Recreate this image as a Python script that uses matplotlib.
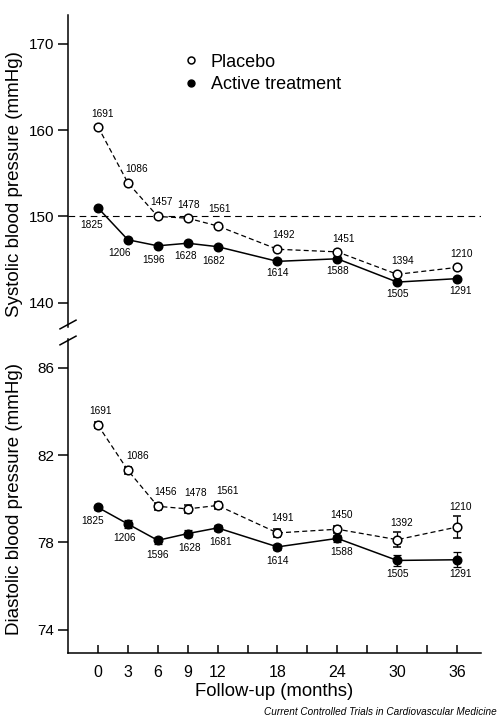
import matplotlib
matplotlib.use("Agg")
import matplotlib.pyplot as plt

# --- données ---
months = [0, 3, 6, 9, 12, 18, 24, 30, 36]

sbp_placebo = [160.4, 153.9, 150.0, 149.8, 148.9, 146.2, 145.9, 143.3, 144.1]
sbp_active = [151.0, 147.3, 146.6, 146.9, 146.5, 144.8, 145.1, 142.4, 142.8]
n_sbp_placebo = [1691, 1086, 1457, 1478, 1561, 1492, 1451, 1394, 1210]
n_sbp_active = [1825, 1206, 1596, 1628, 1682, 1614, 1588, 1505, 1291]

dbp_placebo = [83.37, 81.3, 79.65, 79.53, 79.69, 78.43, 78.6, 78.12, 78.7]
dbp_active = [79.6, 78.84, 78.09, 78.4, 78.66, 77.79, 78.18, 77.17, 77.2]
dbp_placebo_se = [0.12, 0.17, 0.15, 0.17, 0.15, 0.17, 0.17, 0.35, 0.52]
dbp_active_se = [0.12, 0.17, 0.15, 0.15, 0.15, 0.15, 0.15, 0.25, 0.35]
n_dbp_placebo = [1691, 1086, 1456, 1478, 1561, 1491, 1450, 1392, 1210]
n_dbp_active = [1825, 1206, 1596, 1628, 1681, 1614, 1588, 1505, 1291]

# décalages des effectifs (pixels)
off_sbp_placebo = [(5, 13), (9, 14), (4, 14), (1, 13), (2, 17), (6, 14), (6, 13), (5, 13), (4, 13)]
off_sbp_active = [(-6, -17), (-8, -13), (-4, -14), (-2, -13), (-4, -14), (0, -12), (0, -12), (0, -12), (3, -12)]
off_dbp_placebo = [(3, 14), (10, 14), (8, 14), (8, 16), (10, 14), (5, 15), (4, 14), (4, 17), (3, 20)]
off_dbp_active = [(-5, -14), (-3, -14), (0, -15), (2, -14), (3, -14), (0, -14), (4, -14), (0, -14), (3, -14)]

num_font = 'Liberation Sans'
label_font = 'Liberation Sans'

fig = plt.figure(figsize=(5.0, 7.26), dpi=100)
ax1 = fig.add_axes([0.136, 0.549, 0.826, 0.43])
ax2 = fig.add_axes([0.136, 0.1006, 0.826, 0.432])

xlim = (-3, 38.4)


def draw_panel(ax, yp, ya, np_, na, offp, offa, errp=None, erra=None):
    kw_p = dict(color='black', ls=(0, (4, 2.5)), lw=0.9, marker='o', ms=6.2,
                mfc='white', mec='black', mew=1.1, zorder=3)
    kw_a = dict(color='black', ls='-', lw=1.1, marker='o', ms=6.2,
                mfc='black', mec='black', zorder=2)
    if errp is None:
        ax.plot(months, yp, **kw_p)
        ax.plot(months, ya, **kw_a)
    else:
        ax.errorbar(months, yp, yerr=errp, capsize=3, elinewidth=0.9, capthick=0.9, ecolor='black', **kw_p)
        ax.errorbar(months, ya, yerr=erra, capsize=3, elinewidth=0.9, capthick=0.9, ecolor='black', **kw_a)
    for x, y, n, o in zip(months, yp, np_, offp):
        ax.annotate(str(n), (x, y), xytext=o, textcoords='offset pixels', ha='center', va='center',
                    fontsize=7.3, family=num_font)
    for x, y, n, o in zip(months, ya, na, offa):
        ax.annotate(str(n), (x, y), xytext=o, textcoords='offset pixels', ha='center', va='center',
                    fontsize=7.3, family=num_font)
    ax.set_xlim(*xlim)
    for s in ['top', 'right']:
        ax.spines[s].set_visible(False)
    ax.spines['left'].set_linewidth(1.1)
    ax.tick_params(axis='y', direction='out', length=7, width=1.1, labelsize=11, pad=3)


# --- systolique ---
draw_panel(ax1, sbp_placebo, sbp_active, n_sbp_placebo, n_sbp_active, off_sbp_placebo, off_sbp_active)
ax1.set_ylim(137.15, 173.3)
ax1.set_yticks([140, 150, 160, 170])
ax1.set_yticklabels(['140', '150', '160', '170'], family=num_font)
ax1.axhline(150, color='black', ls=(0, (6, 4)), lw=0.8, zorder=1)
ax1.spines['bottom'].set_visible(False)
ax1.set_xticks([])
ax1.set_ylabel('Systolic blood pressure (mmHg)', family=label_font, fontsize=13.5)
ax1.yaxis.set_label_coords(-0.108, 0.46)

# légende
ax1.plot([], [], 'o', ms=5, mfc='white', mec='black', mew=1.1, label='Placebo')
ax1.plot([], [], 'o', ms=5, mfc='black', mec='black', label='Active treatment')
h, l = ax1.get_legend_handles_labels()
ax1.legend(h[-2:], l[-2:], loc='upper left', bbox_to_anchor=(0.262, 0.9), frameon=False,
           prop={'family': label_font, 'size': 13}, handlelength=0.8, handletextpad=0.7,
           labelspacing=0.3, borderaxespad=0)

# --- diastolique ---
draw_panel(ax2, dbp_placebo, dbp_active, n_dbp_placebo, n_dbp_active, off_dbp_placebo, off_dbp_active,
           dbp_placebo_se, dbp_active_se)
ax2.set_ylim(72.93, 87.3)
ax2.set_yticks([74, 78, 82, 86])
ax2.set_yticklabels(['74', '78', '82', '86'], family=num_font)
ax2.spines['bottom'].set_linewidth(1.1)
ax2.set_xticks(range(0, 37, 3))
ax2.set_xticklabels([str(m) if m in months else '' for m in range(0, 37, 3)],
                    family=num_font, fontsize=11.5)
ax2.tick_params(axis='x', direction='in', length=6, width=1.1, pad=9)
ax2.set_xlabel('Follow-up (months)', family=label_font, fontsize=13.3, labelpad=2)
ax2.set_ylabel('Diastolic blood pressure (mmHg)', family=label_font, fontsize=13.5)
ax2.yaxis.set_label_coords(-0.108, 0.49)

# marques de coupure de l'axe
x0 = 0.136
for yb in [0.553, 0.531]:
    fig.add_artist(plt.Line2D([x0 - 0.016, x0 + 0.016], [yb - 0.006, yb + 0.006],
                              transform=fig.transFigure, color='black', lw=1.1))

fig.text(0.993, 0.012, 'Current Controlled Trials in Cardiovascular Medicine', ha='right', va='bottom',
         family=label_font, style='italic', fontsize=7.2)

fig.savefig('out.png', dpi=100)
